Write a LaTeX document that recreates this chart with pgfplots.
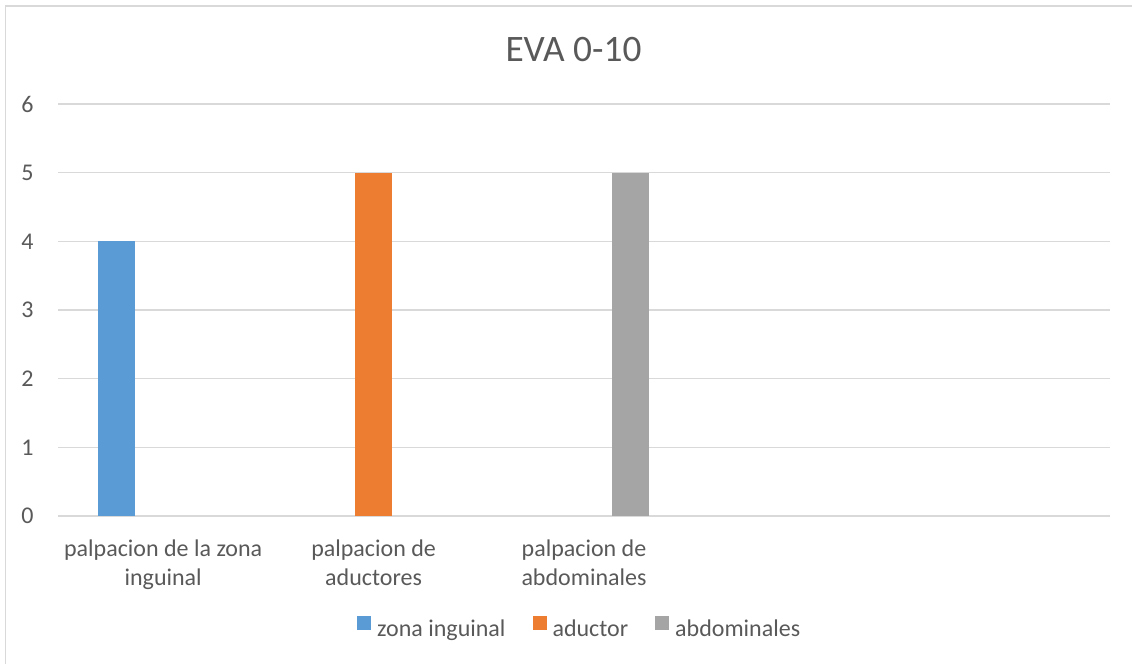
\documentclass[border=0pt]{standalone}
\usepackage{fontspec}
\setmainfont{Carlito}
\usepackage{pgfplots}
\pgfplotsset{compat=1.18}
\definecolor{cblue}{HTML}{5B9BD5}
\definecolor{corange}{HTML}{ED7D31}
\definecolor{cgray}{HTML}{A5A5A5}
\definecolor{textgray}{HTML}{595959}
\definecolor{gridgray}{HTML}{D9D9D9}
\begin{document}
\begin{tikzpicture}
\useasboundingbox (0,0) rectangle (566pt,332pt);
\draw[gridgray, line width=0.75pt] (2.75pt,0pt) -- (2.75pt,329pt) -- (566pt,329pt);
\begin{axis}[
  at={(29pt,74pt)}, anchor=south west,
  scale only axis, width=526pt, height=206pt,
  ybar=4.75pt, bar width=18.5pt,
  legend image code/.code={\fill[#1] (0pt,0pt) rectangle (7pt,7pt);},
  xmin=-0.5, xmax=4.5, ymin=0, ymax=6,
  xtick={0,1,2},
  xticklabels={{palpacion de la zona\\inguinal},{palpacion de\\aductores},{palpacion de\\abdominales}},
  ytick={0,1,2,3,4,5,6},
  axis line style={draw=none},
  tick style={draw=none},
  ymajorgrids,
  major grid style={gridgray, line width=0.65pt},
  /pgf/number format/assume math mode=true,
  tick label style={font=\fontsize{12}{14.6}\selectfont, text=textgray},
  yticklabel style={anchor=east, inner sep=0pt, xshift=-12pt},
  xticklabel style={align=center, anchor=north, inner sep=0pt, yshift=-7.6pt},
  title={EVA 0-10},
  title style={at={(0.49,1.073)}, anchor=base, inner sep=0pt, font=\fontsize{18.67}{22}\selectfont, text=textgray},
  legend columns=3,
  legend style={at={(0.495,-0.272)}, anchor=center, draw=none, fill=none,
    font=\fontsize{12}{14.6}\selectfont, text=textgray,
    nodes={inner sep=0pt},
    /tikz/every odd column/.append style={column sep=3pt},
    /tikz/every even column/.append style={column sep=13.5pt}},
]
\addplot[fill=cblue, draw=none] coordinates {(0,4)};
\addplot[fill=corange, draw=none] coordinates {(1,5)};
\addplot[fill=cgray, draw=none] coordinates {(2,5)};
\legend{zona inguinal, aductor, abdominales}
\end{axis}
\end{tikzpicture}
\end{document}
